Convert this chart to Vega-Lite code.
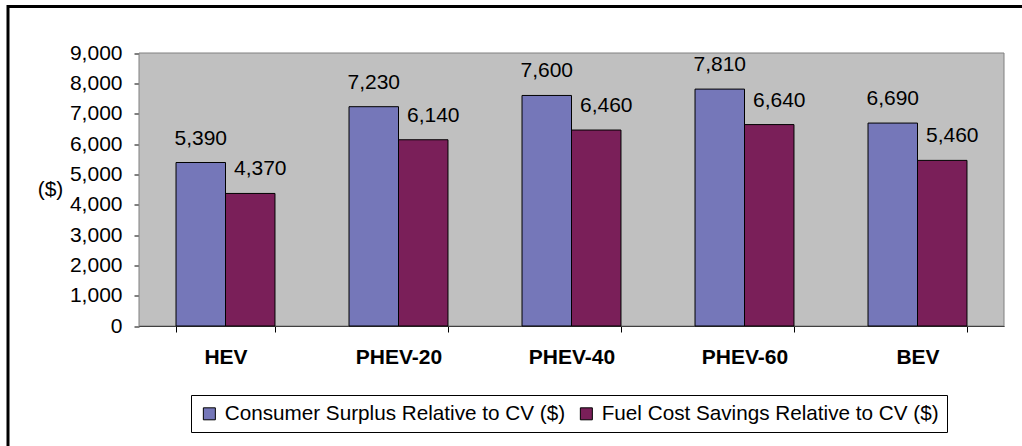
{
  "$schema": "https://vega.github.io/schema/vega-lite/v6.json",
  "width": 1014,
  "height": 439.5,
  "autosize": {"type": "none"},
  "padding": {"left": 8, "top": 6.5, "right": 0, "bottom": 0},
  "background": "white",
  "config": {
    "font": "Liberation Sans",
    "view": {"fill": "white", "stroke": "black", "strokeWidth": 3, "strokeDash": [1014, 1453.5, 439.5, 4000]}
  },
  "resolve": {"scale": {"x": "independent", "y": "independent"}},
  "layer": [
    {
      "data": {"values": [{"x0": 0, "x1": 1, "y0": 0, "y1": 9000}]},
      "mark": {"type": "rect", "fill": "#C0C0C0", "stroke": "#808080", "strokeWidth": 1},
      "encoding": {
        "x": {"field": "x0", "type": "quantitative", "scale": {"domain": [0, 1], "range": [131, 996], "nice": false, "zero": false}, "axis": null},
        "x2": {"field": "x1"},
        "y": {"field": "y0", "type": "quantitative", "scale": {"domain": [0, 9000], "range": [319.5, 46.5], "nice": false}, "axis": null},
        "y2": {"field": "y1"}
      }
    },
    {
      "data": {
        "values": [
          {"vehicle": "HEV", "series": "Consumer Surplus Relative to CV ($)", "value": 5390},
          {"vehicle": "HEV", "series": "Fuel Cost Savings Relative to CV ($)", "value": 4370},
          {"vehicle": "PHEV-20", "series": "Consumer Surplus Relative to CV ($)", "value": 7230},
          {"vehicle": "PHEV-20", "series": "Fuel Cost Savings Relative to CV ($)", "value": 6140},
          {"vehicle": "PHEV-40", "series": "Consumer Surplus Relative to CV ($)", "value": 7600},
          {"vehicle": "PHEV-40", "series": "Fuel Cost Savings Relative to CV ($)", "value": 6460},
          {"vehicle": "PHEV-60", "series": "Consumer Surplus Relative to CV ($)", "value": 7810},
          {"vehicle": "PHEV-60", "series": "Fuel Cost Savings Relative to CV ($)", "value": 6640},
          {"vehicle": "BEV", "series": "Consumer Surplus Relative to CV ($)", "value": 6690},
          {"vehicle": "BEV", "series": "Fuel Cost Savings Relative to CV ($)", "value": 5460}
        ]
      },
      "encoding": {
        "x": {
          "field": "vehicle",
          "type": "nominal",
          "sort": ["HEV", "PHEV-20", "PHEV-40", "PHEV-60", "BEV"],
          "scale": {"range": [131, 996], "paddingInner": 0.428, "paddingOuter": 0.214},
          "axis": {
            "title": null,
            "orient": "bottom",
            "offset": -120,
            "labelAngle": 0,
            "labelFontSize": 21,
            "labelFontWeight": "bold",
            "labelColor": "black",
            "labelPadding": 14,
            "tickBand": "extent",
            "tickSize": 6,
            "tickColor": "black",
            "domainColor": "black",
            "grid": false
          }
        },
        "xOffset": {
          "field": "series",
          "type": "nominal",
          "sort": ["Consumer Surplus Relative to CV ($)", "Fuel Cost Savings Relative to CV ($)"]
        },
        "y": {
          "field": "value",
          "type": "quantitative",
          "scale": {"domain": [0, 9000], "range": [319.5, 46.5], "nice": false},
          "axis": {
            "orient": "left",
            "offset": -131,
            "values": [0, 1000, 2000, 3000, 4000, 5000, 6000, 7000, 8000, 9000],
            "format": ",.0f",
            "grid": false,
            "labelFontSize": 21,
            "labelColor": "black",
            "labelPadding": 12,
            "tickSize": 5,
            "tickColor": "black",
            "domainColor": "black",
            "title": "($)",
            "titleAngle": 0,
            "titleFontSize": 21,
            "titleFontWeight": "normal",
            "titleColor": "black",
            "titleX": -89,
            "titleY": 183,
            "titleAlign": "center",
            "titleBaseline": "middle"
          }
        }
      },
      "layer": [
        {
          "mark": {"type": "bar", "stroke": "black", "strokeWidth": 1},
          "encoding": {
            "color": {
              "field": "series",
              "type": "nominal",
              "scale": {
                "domain": ["Consumer Surplus Relative to CV ($)", "Fuel Cost Savings Relative to CV ($)"],
                "range": ["#7577B9", "#7A1F59"]
              },
              "legend": {
                "title": null,
                "orient": "none",
                "legendX": 183,
                "legendY": 388.5,
                "direction": "horizontal",
                "strokeColor": "black",
                "fillColor": "white",
                "padding": 8,
                "symbolType": "square",
                "symbolSize": 144,
                "symbolStrokeColor": "black",
                "symbolStrokeWidth": 1,
                "symbolOpacity": 1,
                "labelFontSize": 20.7,
                "labelColor": "black",
                "labelOffset": 5,
                "labelLimit": 500,
                "columnPadding": 10
              }
            }
          }
        },
        {
          "transform": [{"filter": "datum.series == 'Consumer Surplus Relative to CV ($)'"}],
          "mark": {"type": "text", "fontSize": 21, "color": "black", "baseline": "alphabetic", "dy": -18},
          "encoding": {"text": {"field": "value", "type": "quantitative", "format": ",.0f"}}
        },
        {
          "transform": [{"filter": "datum.series == 'Fuel Cost Savings Relative to CV ($)'"}],
          "mark": {"type": "text", "fontSize": 21, "color": "black", "baseline": "alphabetic", "dy": -18, "dx": 10},
          "encoding": {"text": {"field": "value", "type": "quantitative", "format": ",.0f"}}
        }
      ]
    }
  ]
}
